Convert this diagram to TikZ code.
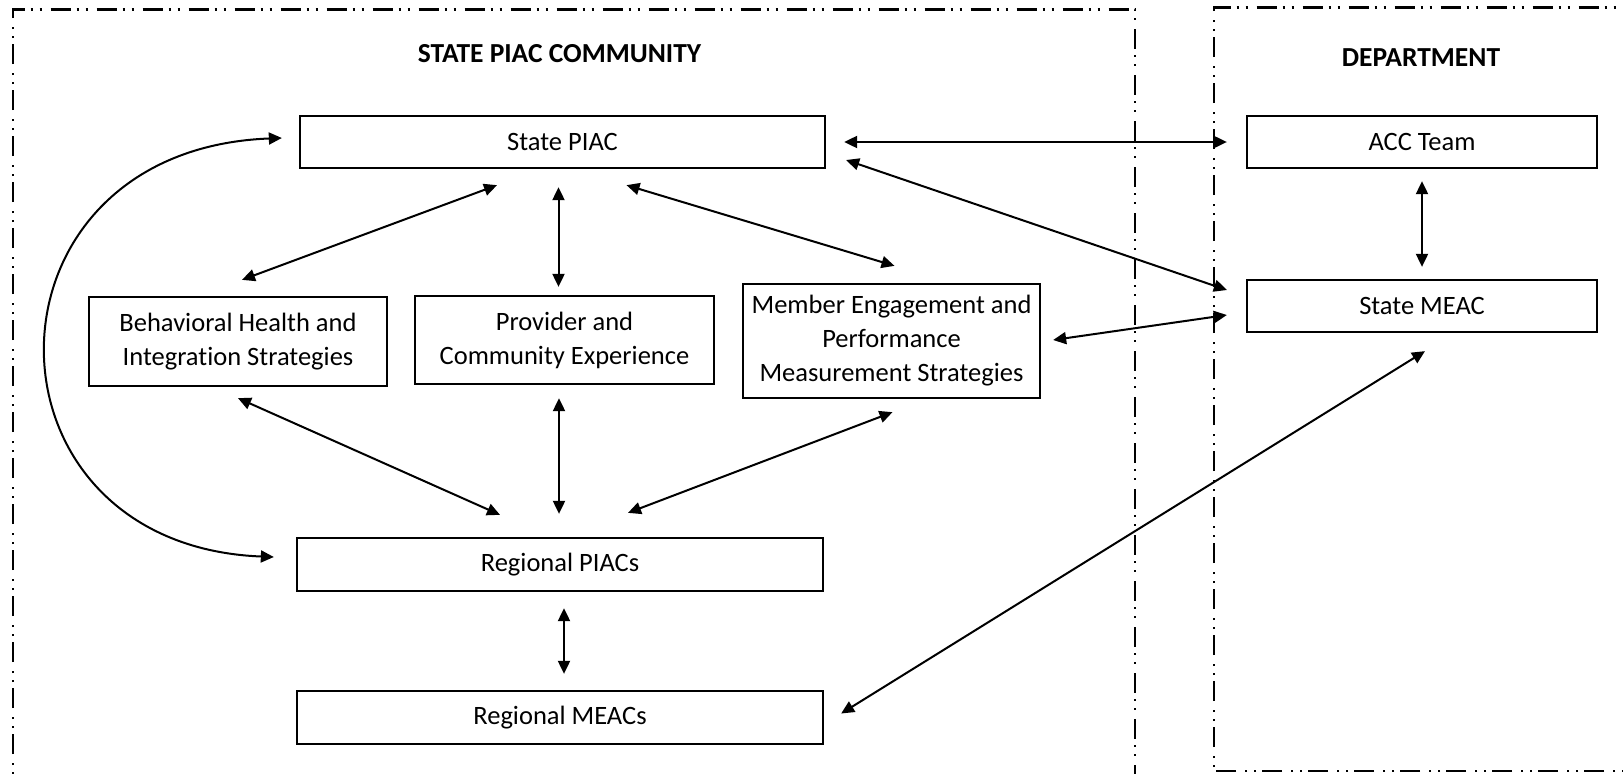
\documentclass[tikz,border=0pt]{standalone}
\usepackage{fontspec}
\setmainfont{Carlito}[Ligatures=NoCommon]
\usetikzlibrary{arrows.meta,calc}
\tikzset{
  boxnode/.style={draw, line width=2.3pt, inner sep=0pt, align=center,
    font=\fontsize{26.5}{34}\selectfont},
  titlenode/.style={inner sep=0pt, font=\fontsize{27.5}{34}\selectfont\bfseries},
  arr/.style={{Triangle[length=13pt,width=12pt]}-{Triangle[length=13pt,width=12pt]}, line width=2pt},
  frame/.style={line width=2.2pt, dash pattern=on 20pt off 6pt on 2pt off 7pt on 2pt off 9pt}
}
\begin{document}
\begin{tikzpicture}[x=1pt,y=-1pt]
\path[use as bounding box, fill=white] (0,0) rectangle (1623,774);
% frames
\draw[frame] (13,800) -- (13,9.5) -- (1135,9.5) -- (1135,800);
\draw[frame] (1650,771) -- (1214,771) -- (1214,7.5) -- (1650,7.5);
% titles
\node[titlenode] (t1) at (559.5,53.5) {STATE PIAC COMMUNITY};
\node[titlenode] (t2) at (1421,58) {DEPARTMENT};
% boxes
\node[boxnode, minimum width=525pt, minimum height=52pt] (spiac) at (562.5,142) {State PIAC};
\node[boxnode, minimum width=350pt, minimum height=52pt] (acc) at (1422,142) {ACC Team};
\node[boxnode, minimum width=350pt, minimum height=52pt] (smeac) at (1422,306) {State MEAC};
\node[boxnode, minimum width=298pt, minimum height=89pt] (bh) at (238,341.5) {Behavioral Health and\\Integration Strategies};
\node[boxnode, minimum width=299pt, minimum height=88pt] (prov) at (564.5,340) {Provider and\\Community Experience};
\node[boxnode, minimum width=297pt, minimum height=114pt] (meng) at (891.5,341) {Member Engagement and\\Performance\\Measurement Strategies};
\node[boxnode, minimum width=526pt, minimum height=53pt] (rpiac) at (560,564.5) {Regional PIACs};
\node[boxnode, minimum width=526pt, minimum height=53pt] (rmeac) at (560,717.5) {Regional MEACs};
% connectors
\draw[arr, shorten <=18pt, shorten >=19pt] (spiac.east) -- (acc.west);
\draw[arr] ($(spiac.east)+(20,18)$) -- ($(smeac.west)+(-19,-16)$);
\draw[arr] ($(meng.east)+(12,-1)$) -- ($(smeac.west)+(-19,9)$);
\draw[arr] ($(acc.south)+(0,12)$) -- ($(smeac.north)+(0,-12)$);
\draw[arr] ($(smeac.south)+(3,18)$) -- ($(rmeac.east)+(17,-4)$);
\draw[arr] ($(spiac.south)+(-65.5,16)$) -- ($(bh.north)+(4,-16)$);
\draw[arr] ($(spiac.south)+(-4,18)$) -- ($(prov.north)+(-6,-8)$);
\draw[arr] ($(spiac.south)+(64,16)$) -- ($(meng.north)+(3,-17)$);
\draw[arr] ($(bh.south)+(0,11)$) -- ($(rpiac.north)+(-60,-22)$);
\draw[arr] ($(prov.south)+(-5.5,13)$) -- ($(rpiac.north)+(-1,-23)$);
\draw[arr] ($(meng.south)+(1,13)$) -- ($(rpiac.north)+(68,-24)$);
\draw[arr] ($(rpiac.south)+(4,16)$) -- ($(rmeac.north)+(4,-16)$);
\draw[arr] ($(spiac.west)+(-17,-4)$) .. controls (-30,150) and (-30,545) .. ($(rpiac.west)+(-22,-7.5)$);
\end{tikzpicture}
\end{document}
